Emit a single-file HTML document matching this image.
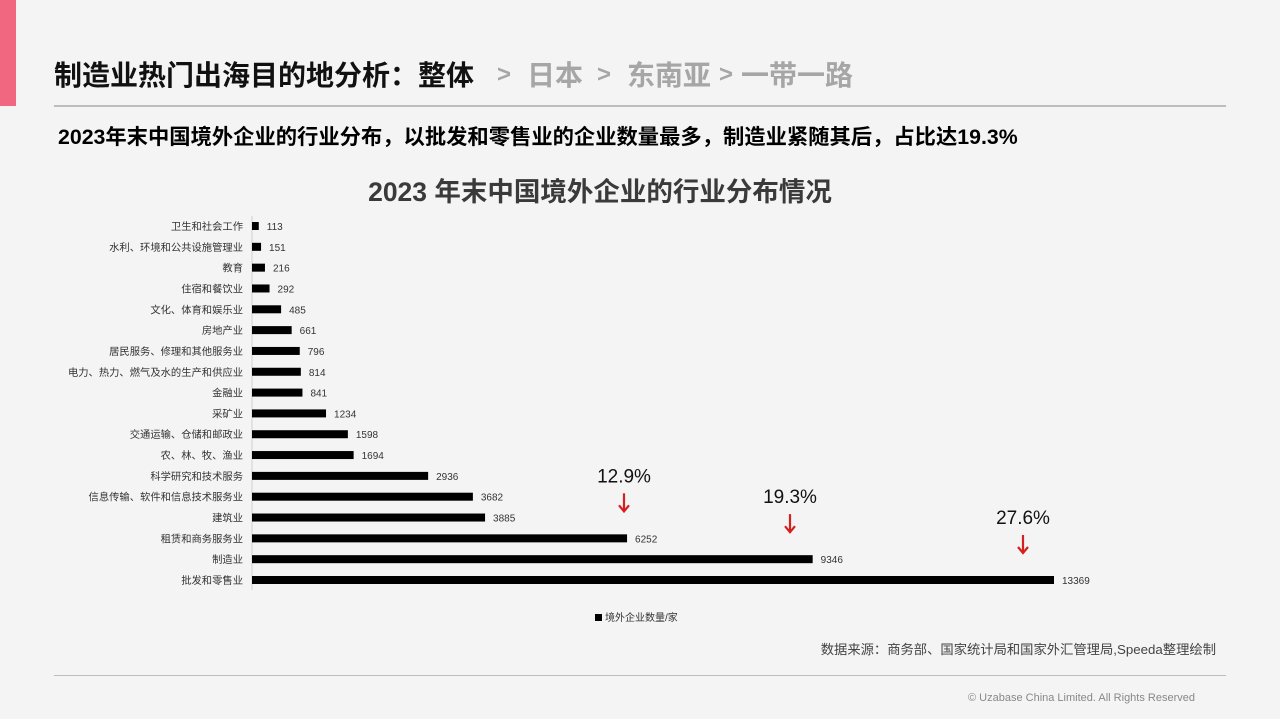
<!DOCTYPE html>
<html><head><meta charset="utf-8"><style>
body{margin:0;width:1280px;height:719px;background:#f4f4f4;font-family:"Liberation Sans","Noto Sans CJK SC",sans-serif;overflow:hidden;position:relative}
.a{position:absolute;white-space:nowrap}
.g{color:#a6a6a6}
</style></head><body>
<div class="a" style="left:0;top:0;width:16px;height:106px;background:#f0677f"></div>
<div class="a" style="left:54px;top:54px;font-size:28px;font-weight:bold;color:#111">制造业热门出海目的地分析：整体</div>
<div class="a g" style="left:497px;top:61px;font-size:24px;font-weight:bold">&gt;</div>
<div class="a g" style="left:527px;top:54px;font-size:28px;font-weight:bold">日本</div>
<div class="a g" style="left:597px;top:61px;font-size:24px;font-weight:bold">&gt;</div>
<div class="a g" style="left:627px;top:54px;font-size:28px;font-weight:bold">东南亚</div>
<div class="a g" style="left:719px;top:61px;font-size:24px;font-weight:bold">&gt;</div>
<div class="a g" style="left:741px;top:54px;font-size:28px;font-weight:bold">一带一路</div>
<div class="a" style="left:54px;top:105px;width:1172px;height:2px;background:#bdbdbd"></div>
<div class="a" style="left:58px;top:120px;font-size:21.3px;font-weight:bold;color:#000">2023年末中国境外企业的行业分布，以批发和零售业的企业数量最多，制造业紧随其后，占比达19.3%</div>
<div class="a" style="left:0;width:1200px;text-align:center;top:170px;font-size:26.5px;font-weight:bold;color:#3a3a3a">2023 年末中国境外企业的行业分布情况</div>
<svg class="a" style="left:0;top:0" width="1280" height="719" id="chart"></svg>
<div class="a" style="left:595px;top:609px;font-size:10px;color:#333"><span style="display:inline-block;width:7px;height:7px;background:#000;margin-right:3px"></span>境外企业数量/家</div>
<div class="a" style="right:64px;top:639px;font-size:13.3px;color:#444">数据来源：商务部、国家统计局和国家外汇管理局,Speeda整理绘制</div>
<div class="a" style="left:54px;top:675px;width:1172px;height:1px;background:#bdbdbd"></div>
<div class="a" style="right:85px;top:692px;font-size:11px;color:#888">© Uzabase China Limited. All Rights Reserved</div>
<script>
const categories=["卫生和社会工作","水利、环境和公共设施管理业","教育","住宿和餐饮业","文化、体育和娱乐业","房地产业","居民服务、修理和其他服务业","电力、热力、燃气及水的生产和供应业","金融业","采矿业","交通运输、仓储和邮政业","农、林、牧、渔业","科学研究和技术服务","信息传输、软件和信息技术服务业","建筑业","租赁和商务服务业","制造业","批发和零售业"];
const values=[113,151,216,292,485,661,796,814,841,1234,1598,1694,2936,3682,3885,6252,9346,13369];
const annotations=["12.9%","19.3%","27.6%"];
const annotationIdx=[15,16,17];
const NS="http://www.w3.org/2000/svg";
const svg=document.getElementById('chart');
const x=v=>252+v*(802/13369);
const y=i=>226+i*(354/17);
function mk(t,a){const e=document.createElementNS(NS,t);for(const k in a)e.setAttribute(k,a[k]);svg.appendChild(e);return e;}
const ax=mk('line',{x1:252,x2:252,y1:216,y2:590,stroke:'#d0d0d0'});


categories.forEach((c,i)=>{
 const l=mk('text',{x:243,y:y(i)+4,'text-anchor':'end','font-size':10.3,fill:'#333'});l.textContent=c;
 
 
 const b=mk('rect',{x:252,y:y(i)-4,width:x(values[i])-252,height:8,fill:'#000'});
 
 
 const v=mk('text',{x:x(values[i])+8,y:y(i)+4,'font-size':10,fill:'#333'});v.textContent=values[i];
 
 
});
const ax2=[624,790,1023];
annotations.forEach((a,k)=>{
 const cx=ax2[k],ty=y(annotationIdx[k])-56;
 const t=mk('text',{x:cx,y:ty,'text-anchor':'middle','font-size':19,fill:'#111'});t.textContent=a;
 
 
 const ar=mk('path',{d:`M${cx} ${ty+11}V${ty+29}M${cx-5} ${ty+23}L${cx} ${ty+29}L${cx+5} ${ty+23}`,stroke:'#d42020','stroke-width':2.2,fill:'none'});
 
 
});
</script>
</body></html>
